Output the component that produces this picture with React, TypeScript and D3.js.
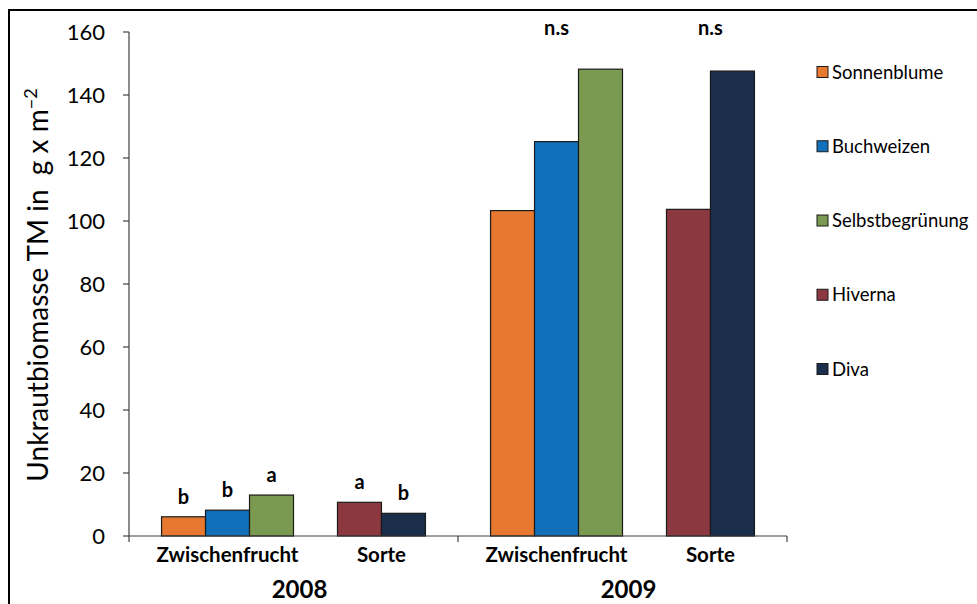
import React from "react";
import * as d3 from "d3";

const years = ["2008", "2009"];
const categories = ["Zwischenfrucht", "Sorte"];
const seriesNames = ["Sonnenblume", "Buchweizen", "Selbstbegrünung", "Hiverna", "Diva"];
const seriesColors = ["#E6792F", "#1170B9", "#7A9951", "#8B3840", "#1B2E4B"];
const seriesCategory = ["Zwischenfrucht", "Zwischenfrucht", "Zwischenfrucht", "Sorte", "Sorte"];
const seriesSlot = [0, 1, 2, 4, 5];
const values2008 = [6.1, 8.2, 13.0, 10.7, 7.2];
const values2009 = [103.3, 125.2, 148.2, 103.7, 147.6];
const letters2008 = ["b", "b", "a", "a", "b"];
const groupLabels2009 = ["n.s", "n.s"];
const yTicks = [0, 20, 40, 60, 80, 100, 120, 140, 160];

const FONT = "Lato, 'Open Sans', sans-serif";

export default function App() {
  const W = 977;
  const H = 604;
  const y = d3.scaleLinear().domain([0, 160]).range([536, 32]);
  const xYear = d3.scaleBand<string>().domain(years).range([129, 787]).padding(0);
  const xSlot = d3
    .scaleBand<number>()
    .domain([0, 1, 2, 3, 4, 5])
    .range([0, xYear.bandwidth()])
    .paddingInner(0)
    .paddingOuter(0.74);
  const bw = xSlot.bandwidth();

  const valuesByYear: Record<string, number[]> = { "2008": values2008, "2009": values2009 };

  const bars: any[] = [];
  years.forEach((yr) => {
    valuesByYear[yr].forEach((v, i) => {
      const x0 = (xYear(yr) as number) + (xSlot(seriesSlot[i]) as number);
      bars.push({ yr, i, v, x: x0, color: seriesColors[i] });
    });
  });

  const catCenter = (yr: string, cat: string) => {
    const slots = seriesSlot.filter((_, i) => seriesCategory[i] === cat);
    const first = xSlot(d3.min(slots) as number) as number;
    const last = (xSlot(d3.max(slots) as number) as number) + bw;
    return (xYear(yr) as number) + (first + last) / 2;
  };

  const legendY = d3.scalePoint<string>().domain(seriesNames).range([72, 369]);

  return (
    <svg
      width={W}
      height={H}
      style={{ position: "absolute", left: 0, top: 0, fontFamily: FONT, background: "#fff" }}
    >
      <rect x={0} y={0} width={W} height={H} fill="#fff" />
      <rect x={9} y={10} width={1200} height={1200} fill="none" stroke="#000" strokeWidth={2} />

      {/* y axis */}
      <line x1={129} x2={129} y1={y(160)} y2={y(0)} stroke="#404040" strokeWidth={1.2} />
      {yTicks.map((t) => (
        <g key={t}>
          <line x1={123} x2={129} y1={y(t)} y2={y(t)} stroke="#404040" strokeWidth={1.2} />
          <text x={105} y={y(t)} dy="0.36em" textAnchor="end" fontSize={22} fill="#000">
            {t}
          </text>
        </g>
      ))}

      {/* bars */}
      {bars.map((b) => (
        <rect
          key={b.yr + b.i}
          x={b.x}
          y={y(b.v)}
          width={bw}
          height={y(0) - y(b.v)}
          fill={b.color}
          stroke="#1a1a1a"
          strokeWidth={1.2}
        />
      ))}

      {/* x axis */}
      <line x1={129} x2={787} y1={y(0)} y2={y(0)} stroke="#404040" strokeWidth={1.2} />
      {[...years.map((yr) => xYear(yr) as number), 787].map((xx, k) => (
        <line key={k} x1={xx} x2={xx} y1={y(0)} y2={y(0) + 6} stroke="#404040" strokeWidth={1.2} />
      ))}

      {/* letters 2008 */}
      {values2008.map((v, i) => (
        <text
          key={"l" + i}
          x={(xYear("2008") as number) + (xSlot(seriesSlot[i]) as number) + bw / 2}
          y={y(v) - 13}
          textAnchor="middle"
          fontSize={20}
          fontWeight="bold"
        >
          {letters2008[i]}
        </text>
      ))}

      {/* n.s 2009 */}
      {categories.map((c, k) => (
        <text
          key={"ns" + k}
          x={catCenter("2009", c)}
          y={y(159)}
          textAnchor="middle"
          fontSize={20}
          fontWeight="bold"
        >
          {groupLabels2009[k]}
        </text>
      ))}

      {/* category labels */}
      {years.map((yr) =>
        categories.map((c) => (
          <text
            key={yr + c}
            x={catCenter(yr, c)}
            y={562}
            textAnchor="middle"
            fontSize={20.5}
            fontWeight="bold"
          >
            {c}
          </text>
        ))
      )}
      {years.map((yr) => (
        <text
          key={"yr" + yr}
          x={(xYear(yr) as number) + xYear.bandwidth() / 2 + 6}
          y={598}
          textAnchor="middle"
          fontSize={24}
          fontWeight="bold"
        >
          {yr}
        </text>
      ))}

      {/* y title */}
      <text
        transform="translate(48,285) rotate(-90)"
        textAnchor="middle"
        fontSize={28}
        style={{ whiteSpace: "pre" }}
      >
        {"Unkrautbiomasse TM in  g x m"}
        <tspan dy={-11} fontSize={18}>
          {"\u2212"}2
        </tspan>
      </text>

      {/* legend */}
      {seriesNames.map((s, i) => (
        <g key={s}>
          <rect
            x={817}
            y={(legendY(s) as number) - 5.5}
            width={11}
            height={11}
            fill={seriesColors[i]}
            stroke="#1a1a1a"
            strokeWidth={1}
          />
          <text x={832} y={legendY(s) as number} dy="0.36em" fontSize={18.5}>
            {s}
          </text>
        </g>
      ))}
    </svg>
  );
}
